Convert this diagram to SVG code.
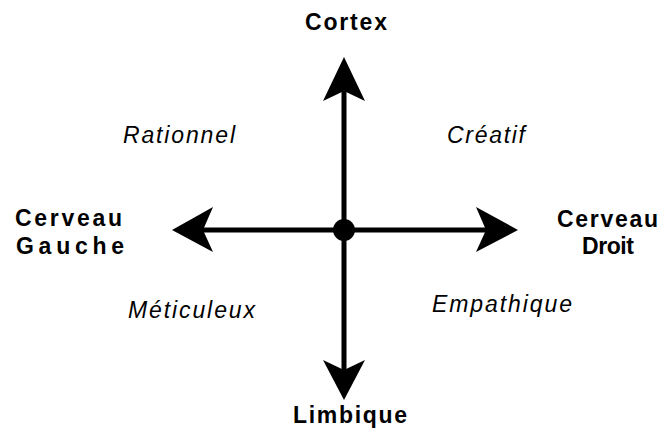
<svg xmlns="http://www.w3.org/2000/svg" width="666" height="435" viewBox="0 0 666 435">
<style>
.lbl{font-family:"Liberation Sans",Arial,sans-serif;font-weight:bold;font-size:23px;fill:#000}
.q{font-family:"Liberation Sans",Arial,sans-serif;font-style:italic;font-size:23px;fill:#000}
.ax{stroke:#000;stroke-width:5;fill:none}
.hd{fill:#000}
</style>
<rect width="666" height="435" fill="#fff"/>
<g id="connectors">
<line class="ax" x1="344" y1="85" x2="344" y2="372"/>
<line class="ax" x1="200" y1="230" x2="490" y2="230"/>
<path class="hd" d="M344,57 L365,101 L344,91 L323,101 Z"/>
<path class="hd" d="M344,400 L365,360 L344,370 L323,360 Z"/>
<path class="hd" d="M172,230 L213,207 L203,230 L213,252 Z"/>
<path class="hd" d="M518,230 L476,207 L486,230 L476,252 Z"/>
<circle cx="344" cy="230" r="11" fill="#000"/>
</g>
<g id="cortex"><text class="lbl" x="305" y="30" textLength="82" lengthAdjust="spacing">Cortex</text></g>
<g id="limbique"><text class="lbl" x="293" y="423" textLength="114" lengthAdjust="spacing">Limbique</text></g>
<g id="gauche">
<text class="lbl" x="15" y="226" textLength="107" lengthAdjust="spacing">Cerveau</text>
<text class="lbl" x="16" y="254" textLength="108" lengthAdjust="spacing">Gauche</text>
</g>
<g id="droit">
<text class="lbl" x="557" y="227" textLength="101" lengthAdjust="spacing">Cerveau</text>
<text class="lbl" x="582" y="254" textLength="52" lengthAdjust="spacing">Droit</text>
</g>
<g id="rationnel"><text class="q" x="123" y="143" textLength="112" lengthAdjust="spacing">Rationnel</text></g>
<g id="creatif"><text class="q" x="447" y="143" textLength="78" lengthAdjust="spacing">Créatif</text></g>
<g id="meticuleux"><text class="q" x="128" y="318" textLength="127" lengthAdjust="spacing">Méticuleux</text></g>
<g id="empathique"><text class="q" x="432" y="312" textLength="140" lengthAdjust="spacing">Empathique</text></g>
</svg>
